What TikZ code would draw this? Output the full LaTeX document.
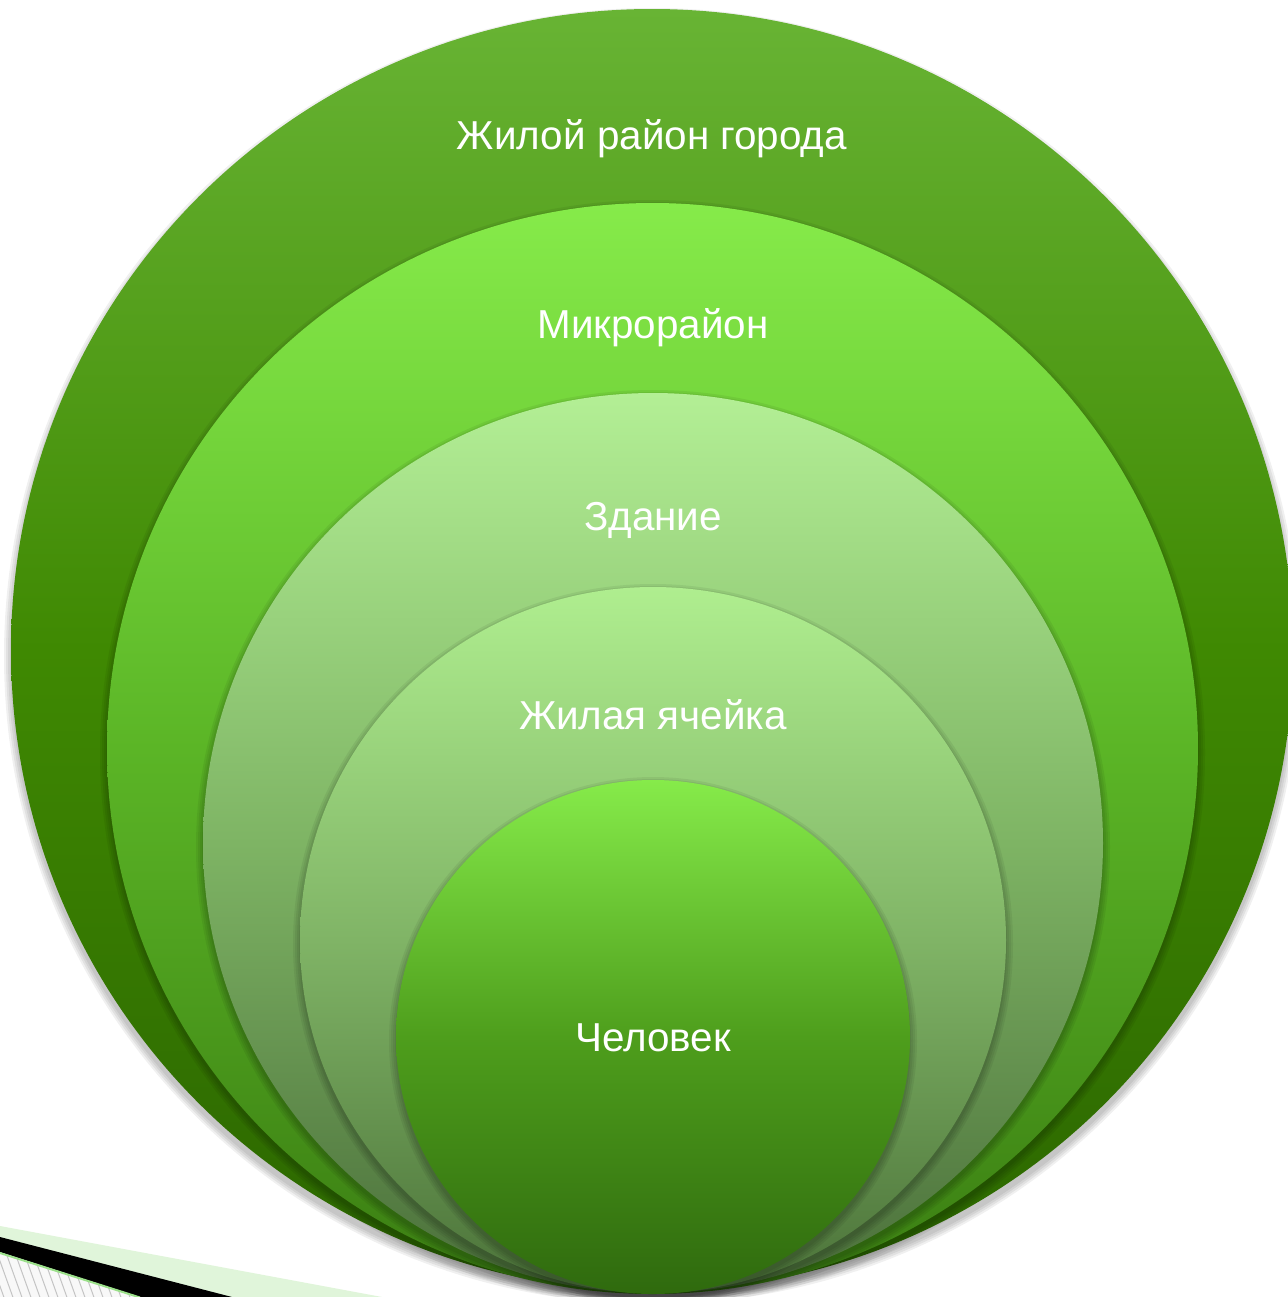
\documentclass[tikz,border=0pt]{standalone}
\usepackage{fontspec}
\setmainfont{Liberation Sans}
\definecolor{lgreen}{HTML}{E0F5DA}
\definecolor{edgegreen}{HTML}{9BE08A}
\definecolor{hatchgrey}{HTML}{C4C4C4}
\definecolor{hatchbg}{HTML}{F8F8F8}
\begin{document}
\begin{tikzpicture}[x=0.5pt,y=-0.5pt]
\tikzset{
  ring/.style={circle, inner sep=0pt, draw=none},
  ringA/.style={ring, top color={rgb,255:red,104;green,180;blue,52}, bottom color={rgb,255:red,43;green,101;blue,0}, middle color={rgb,255:red,63;green,137;blue,2}},
  ringB/.style={ring, top color={rgb,255:red,134;green,235;blue,74}, bottom color={rgb,255:red,58;green,125;blue,18}, middle color={rgb,255:red,91;green,181;blue,38}},
  ringC/.style={ring, top color={rgb,255:red,179;green,239;blue,149}, bottom color={rgb,255:red,74;green,110;blue,58}, middle color={rgb,255:red,126;green,180;blue,100}},
  ringD/.style={ring, top color={rgb,255:red,175;green,238;blue,143}, bottom color={rgb,255:red,75;green,114;blue,57}, middle color={rgb,255:red,128;green,180;blue,102}},
  ringE/.style={ring, top color={rgb,255:red,134;green,235;blue,74}, bottom color={rgb,255:red,47;green,106;blue,14}, middle color={rgb,255:red,78;green,158;blue,28}},
  lbl/.style={text=white, font=\fontsize{20.2}{24}\selectfont, inner sep=0pt},
  shadowA/.style={fill=black, opacity=0.06},
}
\useasboundingbox (0,0) rectangle (1287,1297);
\fill[white] (0,0) rectangle (1287,1297);

% bottom-left decoration
\fill[lgreen] (0,1226) -- (382,1297) -- (0,1297) -- cycle;
\fill[hatchbg] (0,1252) -- (140,1297) -- (0,1297) -- cycle;
\begin{scope}
  \clip (0,1252) -- (140,1297) -- (0,1297) -- cycle;
  \foreach \k in {-40,...,20} {
    \draw[hatchgrey, line width=0.5pt] (\k*9,1236) -- (\k*9+24,1303);
  }
\end{scope}
\fill[black] (0,1237) -- (232,1297) -- (140,1297) -- (0,1252) -- cycle;
\draw[edgegreen, line width=1pt] (0,1253) -- (140,1297.5);

% circles with soft shadows
\coordinate (pA) at (652,650);
\coordinate (pB) at (652.5,748.5);
\coordinate (pC) at (653,843);
\coordinate (pD) at (653,940);
\coordinate (pE) at (653,1037);

\foreach \d in {1,3,5,7} {\fill[shadowA] ([yshift=-3pt]pA) circle[radius={320.5pt+\d*0.5pt}];}
\node[ringA, minimum size=641pt] (cA) at (pA) {};

\foreach \d in {1,3,5,7} {\fill[shadowA] ([yshift=-2pt]pB) circle[radius={272.75pt+\d*0.5pt}];}
\node[ringB, minimum size=545.5pt] (cB) at (pB) {};

\foreach \d in {1,3,5,7} {\fill[shadowA] ([yshift=-2pt]pC) circle[radius={225pt+\d*0.5pt}];}
\node[ringC, minimum size=450pt] (cC) at (pC) {};

\foreach \d in {1,3,5,7} {\fill[shadowA] ([yshift=-2pt]pD) circle[radius={176.5pt+\d*0.5pt}];}
\node[ringD, minimum size=353pt] (cD) at (pD) {};

\foreach \d in {1,3,5,7} {\fill[shadowA] ([yshift=-2pt]pE) circle[radius={128.5pt+\d*0.5pt}];}
\node[ringE, minimum size=257pt] (cE) at (pE) {};

% labels
\node[lbl] (tA) at (652,139) {Жилой район города};
\node[lbl] (tB) at (653,328) {Микрорайон};
\node[lbl] (tC) at (653,520) {Здание};
\node[lbl] (tD) at (653,715) {Жилая ячейка};
\node[lbl] (tE) at (653,1038) {Человек};
\end{tikzpicture}
\end{document}
